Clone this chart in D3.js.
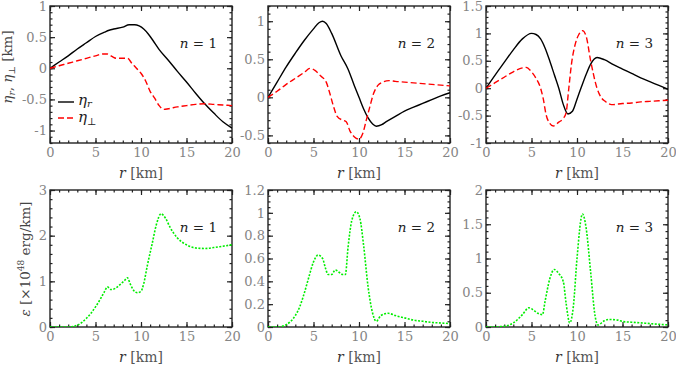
<!DOCTYPE html>
<html>
<head>
<meta charset="utf-8">
<script src="https://cdn.jsdelivr.net/npm/d3@7"></script>
<style>
body { margin: 0; background: #fff; }
</style>
</head>
<body>
<svg id="chart" width="676" height="366"></svg>
<script>
'use strict';

// radial ticks, shared by all panels
var rTicks = [0, 5, 10, 15, 20];

// y ticks of each panel
var etaTicks1 = [-1, -0.5, 0, 0.5, 1];
var etaTicks2 = [-0.5, 0, 0.5, 1];
var etaTicks3 = [-1, -0.5, 0, 0.5, 1, 1.5];
var epsTicks1 = [0, 1, 2, 3];
var epsTicks2 = [0, 0.2, 0.4, 0.6, 0.8, 1, 1.2];
var epsTicks3 = [0, 0.5, 1, 1.5, 2];

// eta_r (black) and eta_perp (red), [r, value]
var etaR1 = [[0,0],[1,0.1],[2,0.2],[3,0.31],[4,0.41],[5,0.51],[6,0.58],[6.5,0.61],[7,0.63],[8,0.66],[8.7,0.7],[9.3,0.7],[9.8,0.68],[10.3,0.63],[10.8,0.55],[11.3,0.45],[12,0.3],[13,0.13],[14,-0.05],[15,-0.22],[16,-0.4],[17,-0.57],[18,-0.72],[19,-0.86],[20,-0.96]];
var etaP1 = [[0,0],[1,0.04],[2,0.08],[3,0.12],[4,0.16],[5,0.2],[5.8,0.23],[6.3,0.23],[6.8,0.19],[7.3,0.16],[8,0.16],[8.5,0.16],[9,0.08],[9.5,0.0],[10,-0.08],[10.5,-0.2],[11,-0.37],[11.5,-0.48],[12,-0.6],[12.5,-0.66],[13,-0.65],[14,-0.62],[15,-0.6],[16,-0.58],[17,-0.57],[18,-0.58],[19,-0.59],[20,-0.6]];

var etaR2 = [[0,0],[1,0.2],[2,0.4],[3,0.58],[4,0.75],[5,0.9],[5.6,0.98],[6,1.0],[6.4,0.97],[7,0.84],[8,0.55],[8.8,0.37],[9.5,0.15],[10,0.0],[10.5,-0.15],[11,-0.27],[11.5,-0.35],[11.9,-0.38],[12.5,-0.36],[13,-0.32],[14,-0.25],[15,-0.18],[16,-0.13],[17,-0.08],[18,-0.03],[19,0.02],[20,0.06]];
var etaP2 = [[0,0],[1,0.08],[2,0.17],[3,0.25],[4,0.33],[4.6,0.38],[5.2,0.35],[5.8,0.28],[6.4,0.2],[6.8,0.05],[7.2,-0.12],[7.6,-0.25],[8.2,-0.3],[8.6,-0.32],[9,-0.44],[9.5,-0.52],[10,-0.55],[10.4,-0.48],[10.8,-0.3],[11.2,-0.12],[11.6,0.05],[12.1,0.16],[12.6,0.2],[13.3,0.22],[14,0.21],[15,0.2],[16,0.19],[17,0.18],[18,0.17],[19,0.16],[20,0.15]];

var etaR3 = [[0,0],[1,0.24],[2,0.47],[3,0.7],[4,0.9],[5,1.0],[5.5,0.98],[6,0.9],[6.5,0.73],[7,0.5],[7.5,0.25],[8,0.0],[8.5,-0.3],[9,-0.47],[9.5,-0.42],[10,-0.2],[10.5,0.03],[11,0.25],[11.5,0.44],[12.2,0.56],[13,0.52],[14,0.43],[15,0.35],[16,0.27],[17,0.19],[18,0.12],[19,0.05],[20,-0.02]];
var etaP3 = [[0,0],[1,0.1],[2,0.2],[3,0.3],[4,0.37],[4.4,0.38],[5,0.3],[5.5,0.18],[6,0.0],[6.3,-0.2],[6.6,-0.48],[7,-0.64],[7.4,-0.69],[8,-0.62],[8.5,-0.55],[8.8,-0.45],[9.1,0.0],[9.4,0.45],[9.8,0.8],[10.2,0.98],[10.6,1.05],[11,0.95],[11.5,0.5],[12.2,0.0],[12.7,-0.18],[13.1,-0.24],[13.8,-0.3],[15,-0.28],[16,-0.27],[17,-0.25],[18,-0.24],[19,-0.23],[20,-0.22]];

// energy density (green)
var eps1 = [[0,0],[1,0],[2,0],[2.5,0.01],[3,0.04],[3.5,0.1],[4,0.19],[4.5,0.3],[5,0.44],[5.5,0.6],[6,0.78],[6.3,0.88],[6.7,0.82],[7.2,0.85],[7.7,0.93],[8.2,1.02],[8.5,1.08],[8.8,0.95],[9.2,0.8],[9.6,0.75],[10,0.78],[10.3,0.95],[10.7,1.35],[11.2,1.8],[11.7,2.25],[12.2,2.48],[12.7,2.38],[13.2,2.18],[14,1.95],[15,1.8],[16,1.73],[17,1.72],[18,1.74],[19,1.77],[20,1.8]];
var eps2 = [[0,0],[1,0],[1.5,0.005],[2,0.02],[2.5,0.05],[3,0.1],[3.5,0.18],[4,0.3],[4.5,0.44],[5,0.57],[5.5,0.63],[6,0.6],[6.3,0.52],[6.6,0.46],[7,0.46],[7.4,0.5],[7.8,0.48],[8.2,0.46],[8.5,0.46],[8.8,0.7],[9.2,0.93],[9.7,1.01],[10.1,0.95],[10.5,0.72],[11,0.35],[11.5,0.12],[11.9,0.05],[12.4,0.1],[13.2,0.12],[14,0.1],[15,0.08],[16,0.06],[17,0.05],[18,0.04],[19,0.035],[20,0.03]];
var eps3 = [[0,0],[1,0],[1.5,0.005],[2,0.01],[3,0.06],[4,0.18],[4.7,0.28],[5.2,0.25],[5.7,0.2],[6.2,0.18],[6.5,0.38],[7,0.7],[7.5,0.84],[8,0.78],[8.5,0.66],[8.8,0.35],[9.2,0.06],[9.6,0.3],[10,1.0],[10.6,1.65],[11,1.45],[11.5,0.8],[12,0.15],[12.3,0.03],[13,0.09],[13.5,0.11],[14.5,0.1],[15,0.08],[16,0.07],[17,0.06],[18,0.05],[19,0.04],[20,0.03]];

var modeLabels = ["1", "2", "3"];

var SERIF = '"DejaVu Serif", serif';
var svg = d3.select("#chart");
var W = 182, H = 137;
var colLeft = [50, 268, 486];
var rowTop = [6, 190];

function fmt(d) { return String(d); }

function Panel(left, top, yDomain, yTicks, yMinor) {
    var x = d3.scaleLinear().domain([0, 20]).range([left, left + W]),
        y = d3.scaleLinear().domain(yDomain).range([top + H, top]),
        g = svg.append("g").attr("font-family", SERIF);

    var xMinor = d3.range(0, 20.001, 1),
        yMin   = d3.range(yDomain[0], yDomain[1] + 1e-6, yMinor);

    function side(axisFn, scale, vals, size, tx, ty, labels) {
        var a = axisFn(scale).tickValues(vals).tickSizeInner(-size).tickSizeOuter(0);
        if (labels) a.tickFormat(fmt).tickPadding(labels);
        else a.tickFormat("");
        var ag = g.append("g").attr("transform", "translate(" + tx + "," + ty + ")").call(a);
        ag.attr("font-family", SERIF).attr("font-size", 13);
        ag.select(".domain").remove();
        ag.selectAll("line").attr("stroke", "#222").attr("stroke-width", 1.2);
        ag.selectAll("text").attr("fill", "#858585");
    }

    // minor ticks
    side(d3.axisBottom, x, xMinor, 2.5, 0, top + H);
    side(d3.axisTop,    x, xMinor, 2.5, 0, top);
    side(d3.axisLeft,   y, yMin,   2.5, left, 0);
    side(d3.axisRight,  y, yMin,   2.5, left + W, 0);
    // major ticks
    side(d3.axisBottom, x, rTicks, 5, 0, top + H, 5);
    side(d3.axisTop,    x, rTicks, 5, 0, top);
    side(d3.axisLeft,   y, yTicks, 5, left, 0, 3);
    side(d3.axisRight,  y, yTicks, 5, left + W, 0);

    g.append("rect")
        .attr("x", left).attr("y", top).attr("width", W).attr("height", H)
        .attr("fill", "none").attr("stroke", "#222").attr("stroke-width", 1.4);

    // x title
    var t = g.append("text")
        .attr("x", left + W / 2).attr("y", top + H + 35)
        .attr("text-anchor", "middle").attr("font-size", 14).attr("fill", "#333");
    t.append("tspan").attr("font-style", "italic").text("r");
    t.append("tspan").attr("fill", "#555").text(" [km]");

    var clipId = "clip" + left + "_" + top;
    svg.append("clipPath").attr("id", clipId).append("rect")
        .attr("x", left).attr("y", top).attr("width", W).attr("height", H);

    var line = d3.line().x(function(d){return x(d[0])}).y(function(d){return y(d[1])})
        .curve(d3.curveMonotoneX);

    return {
        x: x, y: y, g: g,
        addLine: function(data, color, dash, width) {
            g.append("path").datum(data)
                .attr("clip-path", "url(#" + clipId + ")")
                .attr("d", line)
                .attr("fill", "none").attr("stroke", color)
                .attr("stroke-width", width || 1.5)
                .attr("stroke-dasharray", dash || null);
        },
        label: function(n) {
            var lt = g.append("text")
                .attr("x", left + W - 15).attr("y", top + 42)
                .attr("text-anchor", "end").attr("font-size", 13.5).attr("fill", "#222");
            lt.append("tspan").attr("font-style", "italic").text("n");
            lt.append("tspan").text(" = " + n);
        }
    };
}

var etaSets = [[etaR1, etaP1, [-1.2, 1], etaTicks1, 0.1],
               [etaR2, etaP2, [-0.6, 1.2], etaTicks2, 0.1],
               [etaR3, etaP3, [-1, 1.5], etaTicks3, 0.1]];
var epsSets = [[eps1, [0, 3], epsTicks1, 0.2],
               [eps2, [0, 1.2], epsTicks2, 0.05],
               [eps3, [0, 2], epsTicks3, 0.1]];

etaSets.forEach(function(s, i) {
    var p = Panel(colLeft[i], rowTop[0], s[2], s[3], s[4]);
    p.addLine(s[0], "#000", null, 1.4);
    p.addLine(s[1], "#ff0000", "6,3", 1.4);
    p.label(modeLabels[i]);
});

epsSets.forEach(function(s, i) {
    var p = Panel(colLeft[i], rowTop[1], s[1], s[2], s[3]);
    p.addLine(s[0], "#00ee00", "2,1.5", 1.6);
    p.label(modeLabels[i]);
});

// legend in first panel
var leg = svg.append("g").attr("font-family", SERIF);
leg.append("line").attr("x1", 58).attr("x2", 74).attr("y1", 102).attr("y2", 102)
    .attr("stroke", "#000").attr("stroke-width", 1.4);
leg.append("line").attr("x1", 58).attr("x2", 74).attr("y1", 118).attr("y2", 118)
    .attr("stroke", "#ff0000").attr("stroke-width", 1.4).attr("stroke-dasharray", "6,3");
var l1 = leg.append("text").attr("x", 78).attr("y", 105).attr("font-size", 15).attr("fill", "#222");
l1.append("tspan").attr("font-style", "italic").text("η");
l1.append("tspan").attr("dy", 2).attr("font-size", 10).attr("font-style", "italic").text("r");
var l2 = leg.append("text").attr("x", 78).attr("y", 122).attr("font-size", 15).attr("fill", "#222");
l2.append("tspan").attr("font-style", "italic").text("η");
l2.append("tspan").attr("dy", 3).attr("font-size", 10).text("⊥");

// y titles
var yt1 = svg.append("text").attr("font-family", SERIF)
    .attr("transform", "translate(12,67) rotate(-90)")
    .attr("text-anchor", "middle").attr("font-size", 13.5).attr("fill", "#444");
yt1.append("tspan").attr("font-style", "italic").text("η");
yt1.append("tspan").attr("dy", 3).attr("font-size", 9).attr("font-style", "italic").text("r");
yt1.append("tspan").attr("dy", -3).text(", ");
yt1.append("tspan").attr("font-style", "italic").text("η");
yt1.append("tspan").attr("dy", 3).attr("font-size", 9).text("⊥");
yt1.append("tspan").attr("dy", -3).text(" [km]");

var yt2 = svg.append("text").attr("font-family", SERIF)
    .attr("transform", "translate(30,259) rotate(-90)")
    .attr("text-anchor", "middle").attr("font-size", 13.5).attr("fill", "#444");
yt2.append("tspan").attr("font-style", "italic").text("ε");
yt2.append("tspan").text(" [×10");
yt2.append("tspan").attr("dy", -6).attr("font-size", 9).text("48");
yt2.append("tspan").attr("dy", 6).text(" erg/km]");
</script>
</body>
</html>
